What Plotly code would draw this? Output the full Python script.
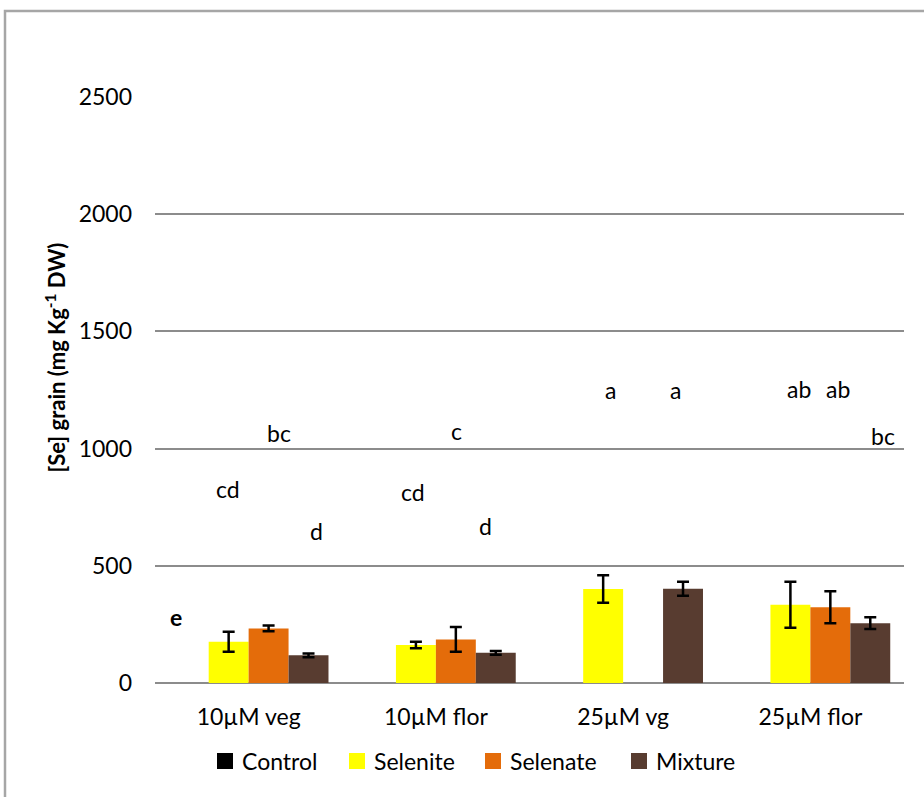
import plotly.graph_objects as go

# ---- data ----
categories = ["10µM veg", "10µM flor", "25µM vg", "25µM flor"]
series_names = ["Control", "Selenite", "Selenate", "Mixture"]
control = [0, 0, 0, 0]
selenite = [176, 162, 401, 334]
selenite_err = [43, 14, 59, 98]
selenate = [233, 186, None, 323]
selenate_err = [12, 53, None, 68]
mixture = [118, 129, 402, 255]
mixture_err = [8, 8, 30, 25]

y_ticks = [0, 500, 1000, 1500, 2000, 2500]

# significance letters (text) and their placement
letters = ["e", "cd", "bc", "d", "cd", "c", "d", "a", "a", "ab", "ab", "bc"]
letter_x = [-0.39, -0.11, 0.16, 0.36, 0.88, 1.11, 1.265, 1.93, 2.28, 2.94, 3.15, 3.39]
letter_y = [282, 828, 1067, 648, 815, 1075, 670, 1250, 1250, 1254, 1254, 1054]
letter_bold = [True] + [False] * 11

# ---- style ----
FONT = "Lato"
colors = ["black", "#FFFF00", "#E46C0A", "#583C30"]
W, H = 924, 797
ML, MR, MT, MB = 155, 20, 97, 114
PW, PH = W - ML - MR, H - MT - MB


def px_to_paper_x(px):
    return (px - ML) / PW


def px_to_paper_y(py):
    return (H - MB - py) / PH


fig = go.Figure()


def err(vals):
    return dict(type="data", array=vals, visible=True, color="black",
                thickness=2.5, width=6)


values = [control, selenite, selenate, mixture]
errors = [None, selenite_err, selenate_err, mixture_err]
for name, vals, errs, col in zip(series_names, values, errors, colors):
    fig.add_trace(go.Bar(name=name, x=categories, y=vals,
                         error_y=err(errs) if errs else None,
                         marker=dict(color=col, line=dict(width=0)),
                         showlegend=False))

annotations = []
for t, xv, yv, b in zip(letters, letter_x, letter_y, letter_bold):
    annotations.append(dict(
        x=xv, y=yv, xref="x", yref="y", text=f"<b>{t}</b>" if b else t,
        showarrow=False, font=dict(family=FONT, size=23, color="black"),
        xanchor="center", yanchor="middle"))

annotations.append(dict(
    x=-0.133, y=0.556, xref="paper", yref="paper", textangle=-90,
    text="<b>[Se] grain (mg Kg<sup>-1</sup> DW)</b>", showarrow=False,
    font=dict(family=FONT, size=22, color="black"),
    xanchor="center", yanchor="middle"))

# custom legend (square swatches + labels)
legend_sw_x = [217, 349, 485, 631]
legend_cy = 761
shapes = [dict(type="rect", xref="paper", yref="paper",
               x0=px_to_paper_x(5), x1=px_to_paper_x(960),
               y0=px_to_paper_y(840), y1=px_to_paper_y(11),
               line=dict(color="#A6A6A6", width=2.5), layer="below")]
for name, col, sx in zip(series_names, colors, legend_sw_x):
    shapes.append(dict(type="rect", xref="paper", yref="paper",
                       x0=px_to_paper_x(sx), x1=px_to_paper_x(sx + 16),
                       y0=px_to_paper_y(legend_cy + 8),
                       y1=px_to_paper_y(legend_cy - 8),
                       fillcolor=col, line=dict(width=0)))
    annotations.append(dict(
        x=px_to_paper_x(sx + 23), y=px_to_paper_y(legend_cy),
        xref="paper", yref="paper", text=name, showarrow=False,
        xanchor="left", yanchor="middle",
        font=dict(family=FONT, size=23, color="black")))

fig.update_layout(
    width=W, height=H,
    margin=dict(l=ML, r=MR, t=MT, b=MB),
    paper_bgcolor="white", plot_bgcolor="white",
    barmode="group", bargap=0.147, bargroupgap=0,
    font=dict(family=FONT, size=22, color="black"),
    showlegend=False,
    annotations=annotations,
    shapes=shapes,
)

fig.update_xaxes(showgrid=False, ticks="", showline=False, zeroline=False,
                 ticklabelstandoff=18, tickfont=dict(family=FONT, size=23))
fig.update_yaxes(range=[0, 2500], tickvals=y_ticks, showgrid=True,
                 gridcolor="#8C8C8C", gridwidth=2, zeroline=True,
                 zerolinecolor="#8C8C8C", zerolinewidth=2,
                 showline=False, ticks="", ticklabelstandoff=22,
                 tickfont=dict(family=FONT, size=23))

fig.write_html("out.html")
